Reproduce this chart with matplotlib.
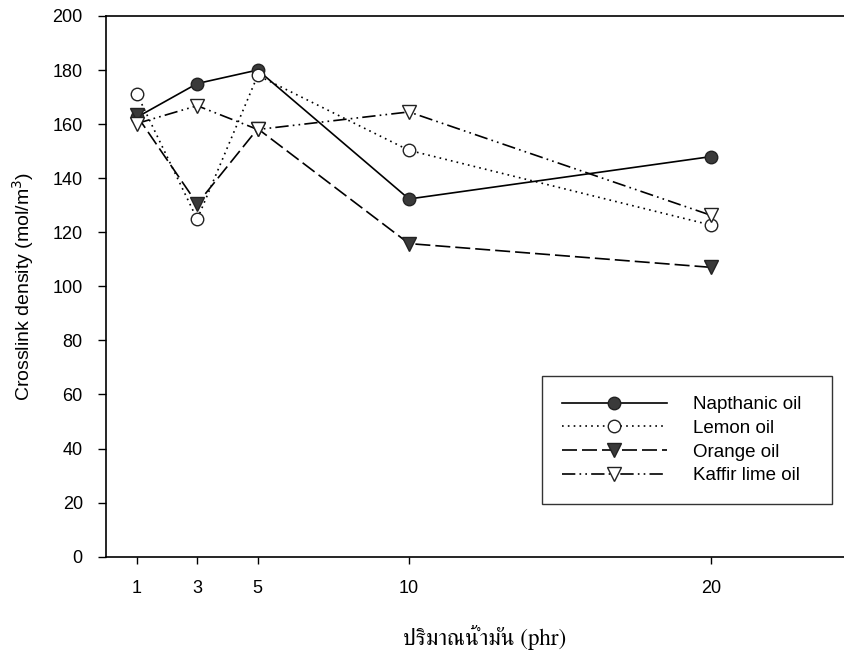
import matplotlib
matplotlib.use("Agg")
import matplotlib.pyplot as plt
from matplotlib import font_manager
from matplotlib.ft2font import FT2Font

phr = [1, 3, 5, 10, 20]
napthanic = [162.5, 175, 180, 132.3, 148]
lemon = [171.3, 124.8, 178, 150.3, 122.6]
orange = [163.2, 130.5, 158.3, 115.8, 107]
kaffir = [160.2, 166.8, 158, 164.5, 126.2]
labels = ["Napthanic oil", "Lemon oil", "Orange oil", "Kaffir lime oil"]
yticks = list(range(0, 201, 20))


def find_thai_font():
    # pick an installed serif-ish font that really has Thai glyphs
    found = set()
    for fe in font_manager.fontManager.ttflist:
        try:
            f = FT2Font(fe.fname)
            if f.get_char_index(ord("ป")) and f.get_char_index(ord("ั")):
                found.add(fe.name)
        except Exception:
            pass
    for name in ["Norasi", "Kinnari", "TH Sarabun New", "FreeSerif", "Sawasdee"]:
        if name in found:
            return [name]
    return sorted(found)[:1]


thai_family = find_thai_font() + ["DejaVu Serif"]

plt.rcParams["font.family"] = ["Liberation Sans", "DejaVu Sans"]

fig = plt.figure(figsize=(8.45, 6.59), dpi=100)
ax = fig.add_axes([0.126, 0.1553, 0.895, 0.8205])

ax.plot(phr, napthanic, color="black", ls="-", lw=1.2, marker="o", ms=9,
        mfc="#3a3a3a", mec="#222222", label=labels[0])
ax.plot(phr, lemon, color="black", ls=(0, (1, 2.5)), lw=1.2, marker="o", ms=9,
        mfc="white", mec="#222222", label=labels[1])
ax.plot(phr, orange, color="black", ls=(0, (9, 3)), lw=1.2, marker="v", ms=10,
        mfc="#3a3a3a", mec="#222222", label=labels[2])
ax.plot(phr, kaffir, color="black", ls=(0, (8, 2.5, 1, 2.5, 1, 2.5)), lw=1.2, marker="v", ms=10,
        mfc="white", mec="#222222", label=labels[3])

ax.set_xlim(0, 25)
ax.set_ylim(0, 200)
ax.set_xticks(phr)
ax.set_yticks(yticks)
ax.tick_params(axis="y", direction="out", length=6, width=1, labelsize=13, pad=11)
ax.tick_params(axis="x", direction="out", length=5, width=1, labelsize=13, pad=12)
ax.spines["right"].set_visible(False)
for s in ["left", "bottom", "top"]:
    ax.spines[s].set_linewidth(1.2)

ax.set_ylabel("Crosslink density (mol/m$^3$)", fontsize=14, labelpad=12)
ax.set_xlabel("ปริมาณน้ำมัน (phr)", fontsize=16.5, family=thai_family, labelpad=20)

leg = ax.legend(loc="lower left", bbox_to_anchor=(0.576, 0.0975, 0.383, 0.246),
                mode="expand", fontsize=13.5, handlelength=5.6, frameon=True,
                fancybox=False, edgecolor="black", borderpad=1.05, labelspacing=0.35,
                handletextpad=1.4, borderaxespad=0)
leg.get_frame().set_linewidth(1.0)

fig.savefig("out.png", dpi=100)
